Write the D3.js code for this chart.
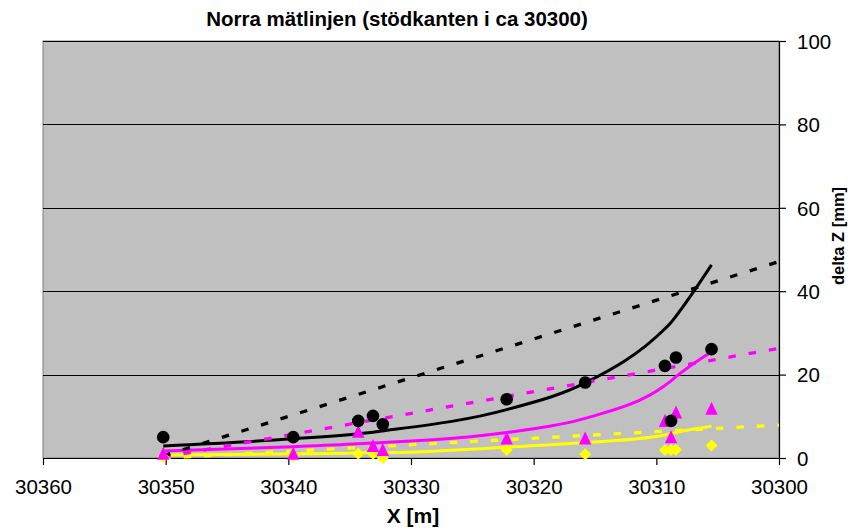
<!DOCTYPE html>
<html>
<head>
<meta charset="utf-8">
<script src="https://cdn.jsdelivr.net/npm/d3@7"></script>
<style>
  html, body { margin: 0; padding: 0; background: #fff; }
  svg { display: block; font-family: "Liberation Sans", Arial, sans-serif; }
</style>
</head>
<body>
<svg id="chart" width="852" height="530"></svg>
<script>
// Measuring stations along the line (X [m])
const stations = [30350.2, 30339.6, 30334.3, 30333.1, 30332.3, 30322.2, 30315.8, 30309.3, 30308.8, 30308.4, 30305.5];

// Measured settlements (delta Z [mm])
const measuredBlack   = [5.0, 5.0, 8.9, 10.1, 8.1, 14.1, 18.1, 22.1, 8.9, 24.1, 26.1];
const measuredMagenta = [1.0, 1.0, 6.3, 2.9, 1.9, 4.7, 4.7, 8.9, 5.0, 10.9, 11.8];
const measuredYellow  = [0.3, 0.5, 1.0, 1.0, 0.0, 1.9, 0.9, 1.9, 1.9, 2.0, 3.0];

// Computed curves at the same stations (smoothed lines)
const curveBlack   = [2.9, 4.6, 5.8, 6.2, 6.5, 11.6, 18.0, 31.0, 32.5, 34.0, 46.3];
const curveMagenta = [1.7, 2.7, 3.4, 3.6, 3.7, 6.1, 9.5, 17.4, 18.5, 19.5, 25.5];
const curveYellow  = [0.7, 1.0, 1.2, 1.3, 1.3, 2.6, 3.7, 5.5, 5.8, 6.1, 7.6];

// Linear trends (dashed), start and end
const trendStations = [30350.2, 30300];
const trendBlack    = [0.5, 47.1];
const trendMagenta  = [0.2, 26.3];
const trendYellow   = [0.0, 7.9];

// Axis ticks
const xTicks = [30360, 30350, 30340, 30330, 30320, 30310, 30300];
const yTicks = [0, 20, 40, 60, 80, 100];
const gridValues = [20, 40, 60, 80, 100];

const svg = d3.select("#chart");
const plot = { left: 43, right: 779, top: 41, bottom: 458 };

const x = d3.scaleLinear().domain([30360, 30300]).range([plot.left, plot.right]);
const y = d3.scaleLinear().domain([0, 100]).range([plot.bottom, plot.top]);

// Plot area
svg.append("rect")
  .attr("x", plot.left).attr("y", plot.top)
  .attr("width", plot.right - plot.left).attr("height", plot.bottom - plot.top)
  .attr("fill", "#C0C0C0").attr("stroke", "#808080").attr("stroke-width", 1);

// Horizontal gridlines
svg.append("g").selectAll("line").data(gridValues).join("line")
  .attr("x1", plot.left).attr("x2", plot.right)
  .attr("y1", d => Math.round(y(d)) + 0.5).attr("y2", d => Math.round(y(d)) + 0.5)
  .attr("stroke", "#000").attr("stroke-width", 1);

// Axes
const xAxis = svg.append("g")
  .attr("transform", `translate(0,${plot.bottom})`)
  .call(d3.axisBottom(x).tickValues(xTicks).tickFormat(d3.format("d")).tickSize(7).tickSizeOuter(0).tickPadding(29));
const yAxis = svg.append("g")
  .attr("transform", `translate(${plot.right},0)`)
  .call(d3.axisRight(y).tickValues(yTicks).tickFormat(d3.format("d")).tickSize(7).tickSizeOuter(0).tickPadding(11));

[xAxis, yAxis].forEach(g => {
  g.select(".domain").attr("stroke", "#000").attr("stroke-width", 1.2);
  g.selectAll(".tick line").attr("stroke", "#000").attr("stroke-width", 1.2);
  g.selectAll(".tick text").attr("fill", "#000")
    .attr("font-family", "Liberation Sans, Arial, sans-serif").attr("font-size", 20.5);
});
xAxis.selectAll(".tick text").attr("dy", "0");
yAxis.selectAll(".tick text").attr("dy", "0.36em");

// Lines
const line = d3.line().x(d => x(d[0])).y(d => y(d[1])).curve(d3.curveMonotoneX);
const straight = d3.line().x(d => x(d[0])).y(d => y(d[1]));

const curves = [
  { values: curveYellow, color: "#FFFF00" },
  { values: curveMagenta, color: "#FF00FF" },
  { values: curveBlack, color: "#000000" }
];
const trends = [
  { values: trendYellow, color: "#FFFF00" },
  { values: trendMagenta, color: "#FF00FF" },
  { values: trendBlack, color: "#000000" }
];

const lines = svg.append("g");
curves.forEach(c => {
  lines.append("path")
    .attr("d", line(stations.map((s, i) => [s, c.values[i]])))
    .attr("fill", "none").attr("stroke", c.color).attr("stroke-width", 3)
    .attr("stroke-linejoin", "round");
});
trends.forEach(t => {
  lines.append("path")
    .attr("d", straight(trendStations.map((s, i) => [s, t.values[i]])))
    .attr("fill", "none").attr("stroke", t.color).attr("stroke-width", 3.3)
    .attr("stroke-dasharray", "7.5,13");
});

// Markers
const pts = (vals) => stations.map((s, i) => ({ cx: x(s), cy: y(vals[i]) }));

svg.append("g").selectAll("path").data(pts(measuredYellow)).join("path")
  .attr("d", d => `M${d.cx},${d.cy - 6}L${d.cx + 6},${d.cy}L${d.cx},${d.cy + 6}L${d.cx - 6},${d.cy}Z`)
  .attr("fill", "#FFFF00");

svg.append("g").selectAll("path").data(pts(measuredMagenta)).join("path")
  .attr("d", d => `M${d.cx},${d.cy - 7}L${d.cx + 6.2},${d.cy + 6}L${d.cx - 6.2},${d.cy + 6}Z`)
  .attr("fill", "#FF00FF");

svg.append("g").selectAll("circle").data(pts(measuredBlack)).join("circle")
  .attr("cx", d => d.cx).attr("cy", d => d.cy).attr("r", 6.3)
  .attr("fill", "#000");

// Titles
svg.append("text")
  .attr("x", 397).attr("y", 26).attr("text-anchor", "middle")
  .attr("font-size", 20.5).attr("font-weight", "bold")
  .text("Norra mätlinjen (stödkanten i ca 30300)");

svg.append("text")
  .attr("x", 413).attr("y", 523).attr("text-anchor", "middle")
  .attr("font-size", 21).attr("font-weight", "bold")
  .text("X [m]");

svg.append("text")
  .attr("transform", "translate(844,236) rotate(-90)")
  .attr("text-anchor", "middle")
  .attr("font-size", 16.5).attr("font-weight", "bold")
  .text("delta Z [mm]");
</script>
</body>
</html>
